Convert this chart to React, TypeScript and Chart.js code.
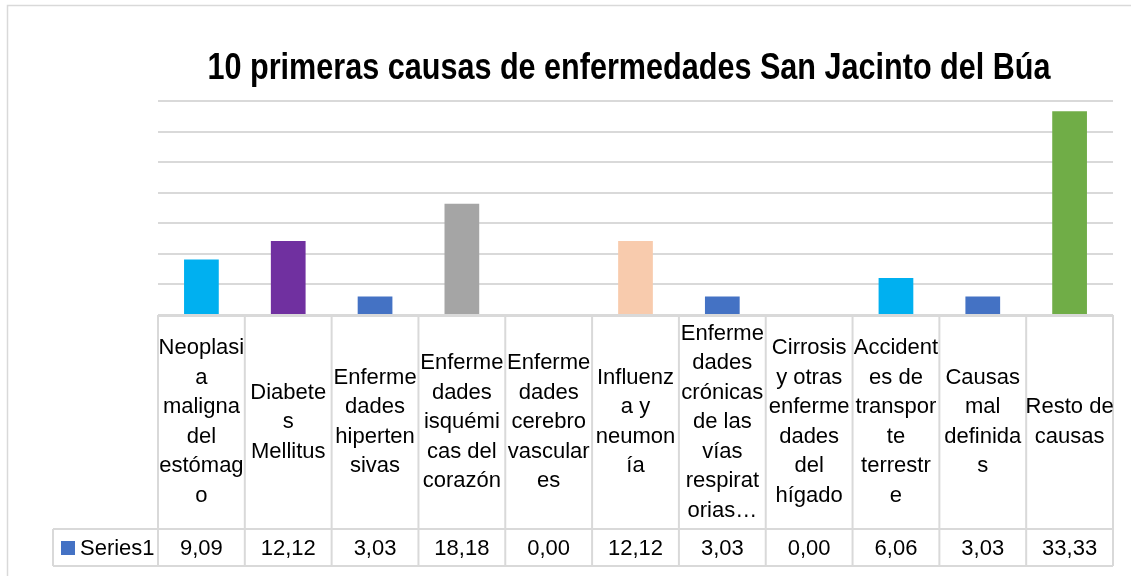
import React, { useEffect, useRef } from "react";
import { Chart, registerables } from "chart.js";

Chart.register(...registerables);

const TITLE = "10 primeras causas de enfermedades San Jacinto del Búa";
const SERIES_NAME = "Series1";
const categories: string[][] = [
  ["Neoplasi", "a", "maligna", "del", "estómag", "o"],
  ["Diabete", "s", "Mellitus"],
  ["Enferme", "dades", "hiperten", "sivas"],
  ["Enferme", "dades", "isquémi", "cas del", "corazón"],
  ["Enferme", "dades", "cerebro", "vascular", "es"],
  ["Influenz", "a y", "neumon", "ía"],
  ["Enferme", "dades", "crónicas", "de las", "vías", "respirat", "orias…"],
  ["Cirrosis", "y otras", "enferme", "dades", "del", "hígado"],
  ["Accident", "es de", "transpor", "te", "terrestr", "e"],
  ["Causas", "mal", "definida", "s"],
  ["Resto de", "causas"],
];
const values: number[] = [9.09, 12.12, 3.03, 18.18, 0.0, 12.12, 3.03, 0.0, 6.06, 3.03, 33.33];
const barColors: string[] = [
  "#00B0F0", "#7030A0", "#4472C4", "#A5A5A5", "#4472C4", "#F8CBAD",
  "#4472C4", "#4472C4", "#00B0F0", "#4472C4", "#70AD47",
];
const yMin = 0;
const yMax = 35;
const yStep = 5;

const GRID = "#d9d9d9";
const TEXT_FONT = '22px "Liberation Sans", Arial, sans-serif';

const tablePlugin = {
  id: "dataTable",
  afterDraw(chart: any) {
    const ctx: CanvasRenderingContext2D = chart.ctx;
    const x = chart.scales.x;
    const area = chart.chartArea;
    const n = values.length;
    const half = (x.getPixelForValue(1) - x.getPixelForValue(0)) / 2;
    const left = x.getPixelForValue(0) - half;
    const right = x.getPixelForValue(n - 1) + half;
    const top = area.bottom;
    const catBottom = 529;
    const valBottom = 566;
    const legendLeft = 53;

    ctx.save();
    // outer chart border
    ctx.strokeStyle = GRID;
    ctx.lineWidth = 1.5;
    ctx.beginPath();
    ctx.moveTo(7.5, 576);
    ctx.lineTo(7.5, 5.5);
    ctx.lineTo(1131, 5.5);
    ctx.stroke();

    // title
    ctx.fillStyle = "#000000";
    ctx.font = 'bold 36px "Liberation Sans Narrow", "Liberation Sans", Arial, sans-serif';
    ctx.textBaseline = "alphabetic";
    ctx.textAlign = "center";
    const target = 843;
    const w = ctx.measureText(TITLE).width;
    const sx = w > target * 1.02 ? target / w : 1;
    ctx.save();
    ctx.translate(629, 79);
    ctx.scale(sx, 1);
    ctx.fillText(TITLE, 0, 0);
    ctx.restore();

    // table grid
    ctx.strokeStyle = GRID;
    ctx.lineWidth = 2;
    ctx.beginPath();
    ctx.moveTo(left, top + 1);
    ctx.lineTo(right, top + 1);
    ctx.moveTo(legendLeft, catBottom);
    ctx.lineTo(right, catBottom);
    ctx.moveTo(legendLeft, valBottom);
    ctx.lineTo(right, valBottom);
    ctx.moveTo(legendLeft, catBottom);
    ctx.lineTo(legendLeft, valBottom);
    for (let i = 0; i <= n; i++) {
      const px = left + i * half * 2;
      ctx.moveTo(px, top);
      ctx.lineTo(px, valBottom);
    }
    ctx.stroke();

    // category labels
    ctx.fillStyle = "#000000";
    ctx.font = TEXT_FONT;
    ctx.textAlign = "center";
    ctx.textBaseline = "middle";
    const lh = 29.5;
    const midCat = (top + catBottom) / 2;
    categories.forEach((lines, i) => {
      const cx = x.getPixelForValue(i);
      lines.forEach((ln, j) => {
        const cy = midCat + (j - (lines.length - 1) / 2) * lh;
        ctx.fillText(ln, cx, cy);
      });
    });

    // values row
    const midVal = (catBottom + valBottom) / 2 + 1;
    values.forEach((v, i) => {
      ctx.fillText(v.toFixed(2).replace(".", ","), x.getPixelForValue(i), midVal);
    });

    // legend key cell
    ctx.fillStyle = "#4472C4";
    ctx.fillRect(61, midVal - 7.5, 14, 14);
    ctx.fillStyle = "#000000";
    ctx.textAlign = "left";
    ctx.fillText(SERIES_NAME, 80, midVal);
    ctx.restore();
  },
};

export default function App() {
  const ref = useRef<HTMLCanvasElement | null>(null);
  useEffect(() => {
    document.body.style.margin = "0";
    const canvas = ref.current;
    if (!canvas) return;
    const chart = new Chart(canvas, {
      type: "bar",
      data: {
        labels: categories.map((c) => c.join(" ")),
        datasets: [
          {
            label: SERIES_NAME,
            data: values,
            backgroundColor: barColors,
            borderWidth: 0,
            barPercentage: 0.4,
            categoryPercentage: 1.0,
          },
        ],
      },
      options: {
        responsive: false,
        animation: false,
        devicePixelRatio: 1,
        layout: { padding: { left: 158, right: 21, top: 101, bottom: 261 } },
        plugins: {
          legend: { display: false },
          title: { display: false },
          tooltip: { enabled: false },
        },
        scales: {
          x: { display: false },
          y: {
            min: yMin,
            max: yMax,
            ticks: { display: false, stepSize: yStep },
            grid: { color: GRID, lineWidth: 2, drawTicks: false },
            border: { display: false },
          },
        },
      },
      plugins: [tablePlugin],
    });
    return () => chart.destroy();
  }, []);
  return (
    <div style={{ width: 1134, height: 576, background: "#ffffff" }}>
      <canvas ref={ref} width={1134} height={576} style={{ display: "block" }} />
    </div>
  );
}
